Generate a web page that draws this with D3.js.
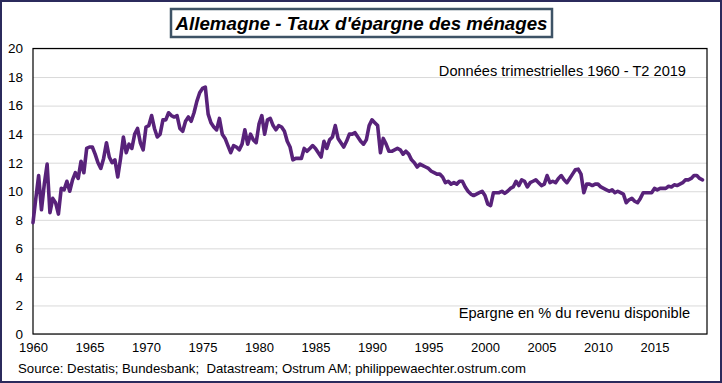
<!DOCTYPE html>
<html><head><meta charset="utf-8">
<script src="https://cdn.jsdelivr.net/npm/d3@7"></script>
<style>html,body{margin:0;padding:0;background:#fff;}svg{display:block;font-family:"Liberation Sans",Arial,sans-serif;}</style>
</head><body>
<svg id="chart" width="722" height="383"></svg>
<script>
const title = "Allemagne - Taux d'épargne des ménages";
const noteTop = "Données trimestrielles 1960 - T2 2019";
const noteBottom = "Epargne en % du revenu disponible";
const source = "Source: Destatis; Bundesbank;  Datastream; Ostrum AM; philippewaechter.ostrum.com";
const startYear = 1960; // first quarter 1960Q1
const yTicks = [0,2,4,6,8,10,12,14,16,18,20];
const xTickLabels = [1960,1965,1970,1975,1980,1985,1990,1995,2000,2005,2010,2015];
// quarterly savings rate, 1960Q1 .. 2019Q2
const savingsRate = [
 7.8, 9.5, 11.1, 8.7, 10.5, 11.9, 8.5, 9.5, 9.2, 8.4,
 10.2, 10.1, 10.7, 10.0, 10.8, 11.3, 10.9, 12.1, 11.3, 13.0,
 13.1, 13.1, 12.6, 12.0, 11.6, 12.3, 13.4, 12.4, 12.0, 12.2,
 11.0, 12.3, 13.8, 12.7, 13.3, 13.0, 14.0, 14.4, 13.4, 12.9,
 14.5, 14.6, 15.3, 14.4, 13.8, 14.0, 15.0, 15.0, 15.5, 15.3,
 15.2, 15.3, 14.4, 14.2, 14.9, 15.2, 14.9, 15.5, 16.3, 16.9,
 17.2, 17.3, 15.4, 14.8, 14.5, 14.3, 15.1, 14.0, 13.7, 13.2,
 12.7, 13.2, 13.1, 12.9, 13.3, 14.3, 13.3, 14.0, 13.6, 13.4,
 14.7, 15.3, 14.0, 15.0, 15.1, 14.6, 14.3, 14.6, 14.5, 14.2,
 13.5, 13.1, 12.2, 12.3, 12.3, 12.3, 13.0, 12.8, 13.0, 13.2,
 13.0, 12.7, 12.4, 13.5, 13.0, 13.6, 13.8, 14.6, 13.7, 13.4,
 13.1, 13.5, 14.0, 14.0, 14.1, 13.8, 13.5, 13.3, 13.6, 14.6,
 15.0, 14.8, 14.6, 12.7, 13.7, 13.3, 12.8, 12.8, 12.9, 13.0,
 12.9, 12.6, 12.8, 12.6, 12.2, 12.0, 11.7, 11.9, 11.8, 11.7,
 11.6, 11.4, 11.3, 11.2, 11.2, 11.0, 10.6, 10.7, 10.5, 10.6,
 10.5, 10.7, 10.7, 10.3, 10.0, 9.8, 9.7, 9.8, 9.9, 10.0,
 9.7, 9.1, 9.0, 9.9, 9.9, 9.9, 10.0, 9.85, 10.0, 10.2,
 10.3, 10.7, 10.4, 10.8, 10.7, 10.3, 10.6, 10.7, 10.8, 10.6,
 10.4, 10.5, 11.1, 10.6, 10.7, 10.6, 10.9, 11.1, 10.8, 10.6,
 10.9, 11.2, 11.5, 11.55, 11.2, 9.9, 10.5, 10.5, 10.4, 10.5,
 10.5, 10.3, 10.2, 10.1, 10.0, 10.1, 9.9, 10.0, 9.9, 9.8,
 9.2, 9.4, 9.5, 9.3, 9.2, 9.5, 9.9, 9.9, 9.9, 9.9,
 10.2, 10.1, 10.2, 10.2, 10.2, 10.35, 10.3, 10.45, 10.4, 10.5,
 10.6, 10.8, 10.8, 10.9, 11.1, 11.1, 10.9, 10.8
];

const svg = d3.select("#chart");
const W = 722, H = 383;
const plot = {left: 33, right: 707, top: 48.5, bottom: 334};

// outer border
svg.append("rect").attr("x",1).attr("y",1).attr("width",W-2).attr("height",H-2)
  .attr("fill","#fff").attr("stroke","#2b2a5c").attr("stroke-width",2);

const x = d3.scaleLinear().domain([1960, 2019.65]).range([plot.left, plot.right]);
const y = d3.scaleLinear().domain([0, 20]).range([plot.bottom, plot.top]);

// gridlines
const yAxis = d3.axisLeft(y).tickValues(yTicks).tickSize(-(plot.right-plot.left)).tickFormat(d3.format("d")).tickPadding(10);
const gy = svg.append("g").attr("transform",`translate(${plot.left},0)`).call(yAxis);
gy.select(".domain").remove();
gy.selectAll(".tick line").attr("stroke","#d9d9d9").attr("stroke-width",1);
gy.selectAll(".tick text").attr("font-size","13.5px").attr("fill","#000").attr("font-family","'Liberation Sans',Arial,sans-serif");

const xAxis = d3.axisBottom(x).tickValues(xTickLabels).tickSize(0).tickFormat(d3.format("d")).tickPadding(9);
const gx = svg.append("g").attr("transform",`translate(0,${plot.bottom})`).call(xAxis);
gx.select(".domain").remove();
gx.selectAll(".tick text").attr("font-size","13px").attr("fill","#000").attr("font-family","'Liberation Sans',Arial,sans-serif");

// plot frame
svg.append("rect").attr("x",plot.left).attr("y",plot.top).attr("width",plot.right-plot.left).attr("height",plot.bottom-plot.top)
  .attr("fill","none").attr("stroke","#000").attr("stroke-width",1.2);

// line
const line = d3.line().x((d,i)=>x(startYear + i*0.25)).y(d=>y(d)).curve(d3.curveLinear);
svg.append("path").datum(savingsRate).attr("d",line).attr("fill","none")
  .attr("stroke","#58227a").attr("stroke-width",3.6).attr("stroke-linejoin","round").attr("stroke-linecap","round");

// title box
svg.append("rect").attr("x",171).attr("y",9).attr("width",381).attr("height",28)
  .attr("fill","#fff").attr("stroke","#3e5366").attr("stroke-width",2.5);
svg.append("text").attr("x",361.5).attr("y",30).attr("text-anchor","middle")
  .attr("font-size","19px").attr("font-weight","bold").attr("font-style","italic")
  .attr("textLength",372).attr("lengthAdjust","spacingAndGlyphs")
  .attr("fill","#000").text(title);

// notes
svg.append("text").attr("x",686).attr("y",76).attr("text-anchor","end").attr("font-size","14.6px").attr("fill","#000").text(noteTop);
svg.append("text").attr("x",690).attr("y",318).attr("text-anchor","end").attr("font-size","14.6px").attr("fill","#000").text(noteBottom);
svg.append("text").attr("x",18).attr("y",373).attr("font-size","13.2px").attr("fill","#000")
  .style("white-space","pre").text(source);
</script>
</body></html>
